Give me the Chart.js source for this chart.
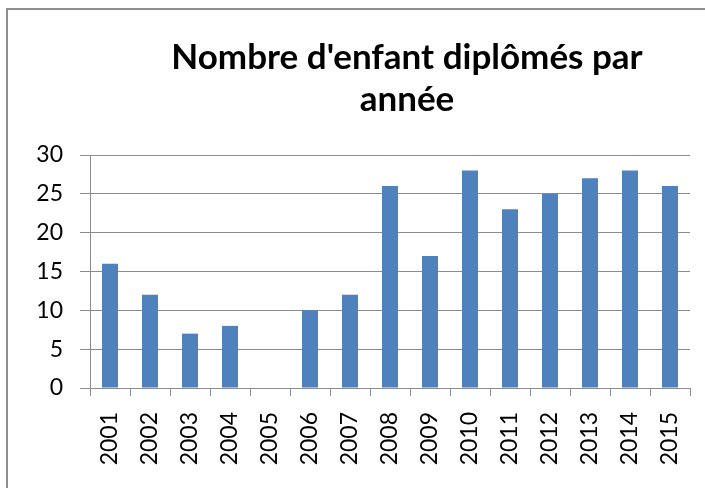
<!DOCTYPE html>
<html>
<head>
<meta charset="utf-8">
<script src="https://cdn.jsdelivr.net/npm/chart.js@4"></script>
<style>
  html, body { margin: 0; padding: 0; background: #fff; overflow: hidden; }
  #wrap { position: relative; width: 705px; height: 488px; }
  #frame { position: absolute; left: 6px; top: 8px; width: 800px; height: 600px; border: 2px solid #8e8e8e; box-sizing: border-box; }
  canvas { position: absolute; left: 0; top: 0; }
</style>
</head>
<body>
<div id="wrap">
  <div id="frame"></div>
  <canvas id="chart" width="705" height="488"></canvas>
</div>
<script>
const years = ['2001', '2002', '2003', '2004', '2005', '2006', '2007', '2008',
  '2009', '2010', '2011', '2012', '2013', '2014', '2015'];
const diplomes = [16, 12, 7, 8, 0, 10, 12, 26, 17, 28, 23, 25, 27, 28, 26];
const titleLines = ["Nombre d'enfant diplômés par", 'année'];

const AXIS = '#8c8c8c';
const FONT = 'Lato, "Open Sans", sans-serif';

// the Excel title sits right of the plot centre, so nudge the title box
const shiftTitle = {
  id: 'shiftTitle',
  afterLayout(chart) {
    const t = chart.titleBlock;
    if (!t) return;
    t.left += 62;
    t.right += 62;
  }
};

new Chart(document.getElementById('chart'), {
  type: 'bar',
  data: {
    labels: years,
    datasets: [{
      data: diplomes,
      backgroundColor: '#4f81bd',
      borderWidth: 0,
      barPercentage: 0.4,
      categoryPercentage: 1.0
    }]
  },
  options: {
    responsive: false,
    animation: false,
    layout: { padding: { left: 0, right: 15, top: 10, bottom: 0 } },
    plugins: {
      legend: { display: false },
      tooltip: { enabled: false },
      title: {
        display: true,
        text: titleLines,
        color: '#000',
        font: { family: FONT, size: 35, weight: 'bold', lineHeight: 1.2 },
        padding: { top: 27, bottom: 34 }
      }
    },
    scales: {
      x: {
        grid: {
          offset: true,
          drawOnChartArea: false,
          drawTicks: true,
          tickLength: 8,
          color: AXIS
        },
        border: { color: AXIS, width: 1 },
        ticks: {
          minRotation: 90,
          maxRotation: 90,
          padding: 16,
          color: '#000',
          font: { family: FONT, size: 23 }
        },
        afterFit(scale) {
          scale.height = 100;
          // rotated labels fit inside their own columns, no extra side room
          scale.paddingLeft = 0;
          scale.paddingRight = 0;
        }
      },
      y: {
        min: 0,
        max: 30,
        ticks: {
          stepSize: 5,
          padding: 17,
          color: '#000',
          font: { family: FONT, size: 23 }
        },
        grid: { color: AXIS, tickLength: 10 },
        border: { color: AXIS, width: 1 },
        afterFit(scale) { scale.width = 90; }
      }
    }
  },
  plugins: [shiftTitle]
});
</script>
</body>
</html>
